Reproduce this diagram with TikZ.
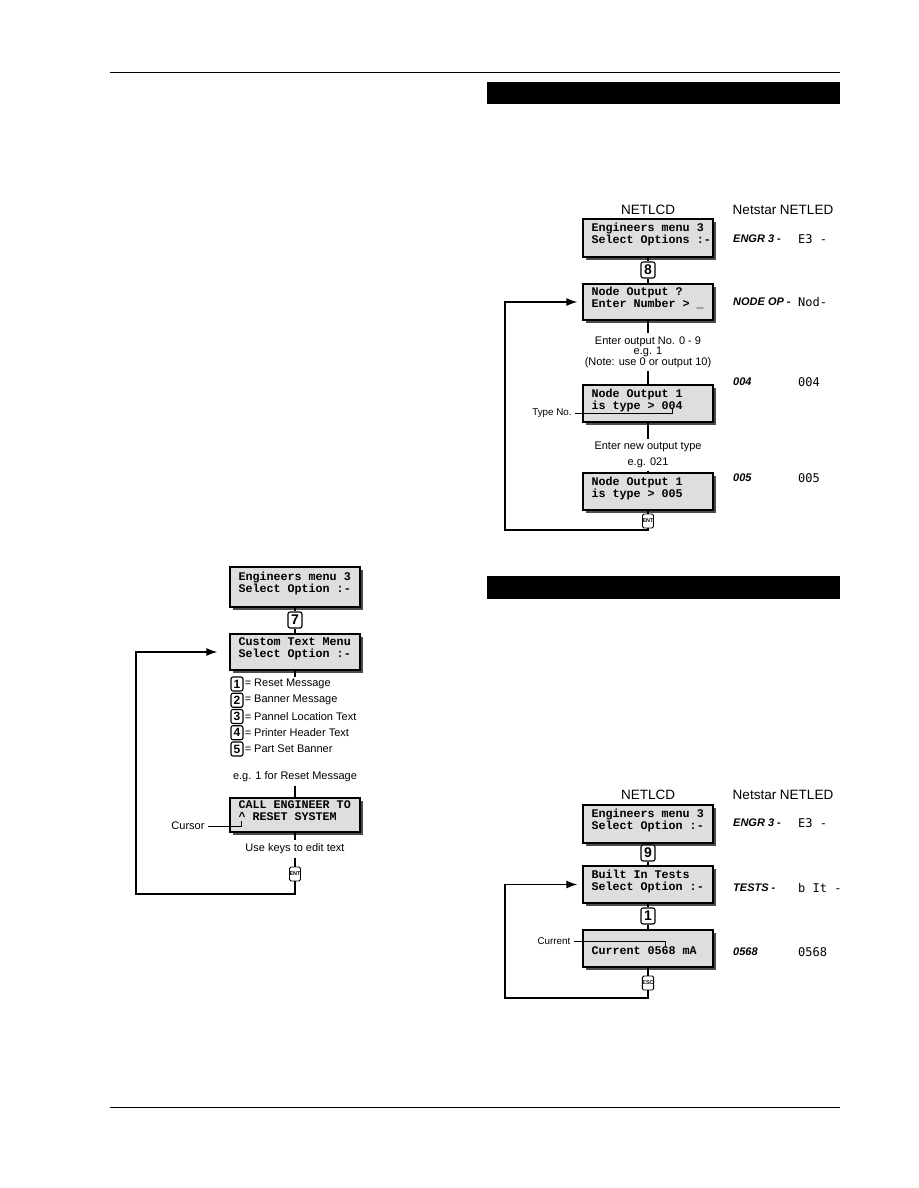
\documentclass[tikz,border=0pt]{standalone}
\usepackage{fontspec}
\setmainfont{Liberation Sans}
\newfontfamily\lcdfont{Liberation Mono}
\newfontfamily\ledfont{DejaVu Sans Mono}
\usetikzlibrary{arrows.meta,shadows}

\begin{document}
\begin{tikzpicture}[x=1pt,y=-1pt,>={Latex[length=11pt,width=8pt]},font=\fontsize{11}{12}\selectfont,
 lcd/.style={draw,line width=1.2pt,fill=black!13,minimum width=130pt,minimum height=#1,inner sep=0pt,text width=113pt,text height=8pt,text depth=21pt,align=left,font=\lcdfont\bfseries\fontsize{11.7}{12}\selectfont,execute at begin node={\spaceskip=7pt\xspaceskip=7pt\hyphenpenalty=10000},drop shadow={shadow xshift=3pt,shadow yshift=-3pt,fill=black!70,opacity=1}},
 lcd/.default=37pt,
 keybox/.style={draw,line width=1.1pt,rounded corners=2pt,fill=white,inner sep=0pt,minimum width=14pt,minimum height=16pt,font=\bfseries\fontsize{14}{14}\selectfont},
 numkey/.style={keybox,minimum width=12pt,minimum height=14pt,font=\bfseries\fontsize{12}{12}\selectfont},
 smallkey/.style={draw,line width=0.9pt,rounded corners=1.5pt,fill=white,inner sep=0pt,minimum width=11pt,minimum height=14pt,font=\bfseries\fontsize{5.5}{6}\selectfont},
 wire/.style={line width=1.6pt},
 hdr/.style={font=\fontsize{13.5}{14}\selectfont},
 tag/.style={anchor=west,inner sep=0pt,font=\bfseries\itshape\fontsize{11}{12}\selectfont},
 led/.style={anchor=west,inner sep=0pt,font=\ledfont\fontsize{12}{12}\selectfont},
 pointer/.style={font=\fontsize{9.8}{10}\selectfont}]
\useasboundingbox (0,0) rectangle (918,1188);
\draw[line width=0.9pt] (110,72) -- (840,72); \draw[line width=0.9pt] (110,1107) -- (840,1107);
\fill (487,82) rectangle (840,104); \fill (487,576) rectangle (840,599);

\node[lcd=40pt] (em1) at (295,587) {Engineers menu 3\\Select Option :-};
\node[keybox] (k7) at (295,620) {7};
\node[lcd=36pt] (ctm) at (295,652) {Custom Text Menu\\Select Option :-};
\draw[wire] (em1) -- (k7) -- (ctm);
\coordinate (lt) at (295,677); \draw[wire] (ctm) -- (lt);
\foreach \n/\t in {1/Reset Message,2/Banner Message,3/Pannel Location Text,4/Printer Header Text,5/Part Set Banner}{
 \node[numkey] (n\n) at (237,667.75+16.25*\n) {\n};
 \node[anchor=west,inner sep=1pt] (t\n) at (n\n.east) {= \t};}
\node (eg1) at (295,777) {e.g. 1 for Reset Message};
\node[lcd=34pt] (cek) at (295,815) {CALL ENGINEER TO\\\textasciicircum{} RESET SYSTEM};
\draw[wire] (eg1) -- (cek);
\node (curs) at (188,826) {Cursor};
\coordinate (cpos) at (241,821);
\draw (curs.east) -- (cpos |- curs) -- (cpos);
\node (uk) at (295,849) {Use keys to edit text};
\node[smallkey] (ent1) at (295,874) {ENT};
\draw[wire] (cek) -- (uk) -- (ent1);
\coordinate (lp1) at (136,894);
\draw[wire,->] (ent1) |- (lp1) |- ([xshift=-12pt]ctm.west);

\node[hdr] (lcdh1) at (648,210) {NETLCD}; \node[hdr] (ledh1) at (783,210) {Netstar NETLED};
\node[lcd=38pt] (em2) at (648,238) {Engineers menu 3\\\mbox{Select Options :-}};
\node[keybox] (k8) at (648,270) {8};
\node[lcd=36pt] (nop) at (648,302) {Node Output ?\\Enter Number > \_};
\draw[wire] (em2) -- (k8) -- (nop);
\node[align=center,font=\fontsize{11}{10.5}\selectfont] (eo) at (648,352) {Enter output No. 0 - 9\\e.g. 1\\(Note: use 0 or output 10)};
\node[lcd=37pt] (nt1) at (648,403.5) {Node Output 1\\is type > 004};
\node (typ) at (552,413) [pointer] {Type No.};
\coordinate (tpos) at (672,408);
\draw (typ.east) -- (tpos |- typ) -- (tpos);
\node[align=center,font=\fontsize{11}{16}\selectfont] (nt) at (648,455) {Enter new output type\\e.g. 021};
\node[lcd=37pt] (nt2) at (648,491.5) {Node Output 1\\is type > 005};
\node[smallkey] (ent2) at (648,521) {ENT};
\draw[wire] (nop) -- (eo) -- (nt1) -- (nt) -- (nt2) -- (ent2);
\coordinate (lp2) at (505,530);
\draw[wire,->] (ent2) |- (lp2) |- ([xshift=-5pt]nop.west);
\node[tag] (g1) at (733,239) {ENGR 3 -}; \node[led] (d1) at (798,239) {E3 -};
\node[tag] (g2) at (733,302) {NODE OP -}; \node[led] (d2) at (798,302) {Nod-};
\node[tag] (g3) at (733,382) {004}; \node[led] (d3) at (798,382) {004};
\node[tag] (g4) at (733,478) {005}; \node[led] (d4) at (798,478) {005};

\node[hdr] (lcdh2) at (648,795) {NETLCD}; \node[hdr] (ledh2) at (783,795) {Netstar NETLED};
\node[lcd=38pt] (em3) at (648,824) {Engineers menu 3\\Select Option :-};
\node[keybox] (k9) at (648,853) {9};
\node[lcd=37pt] (bit) at (648,884.5) {Built In Tests\\Select Option :-};
\node[keybox] (k1) at (648,916) {1};
\node[lcd=37pt] (cur) at (648,948.5) {\mbox{}\\Current 0568 mA};
\node[smallkey] (esc) at (648,983) {ESC};
\draw[wire] (em3) -- (k9) -- (bit) -- (k1) -- (cur) -- (esc);
\node (cl) at (554,941) [pointer] {Current};
\coordinate (clpos) at (665,946);
\draw (cl.east) -- (clpos |- cl) -- (clpos);
\coordinate (lp3) at (505,998);
\draw[wire,->] (esc) |- (lp3) |- ([xshift=-5pt]bit.west);
\node[tag] (g5) at (733,823) {ENGR 3 -}; \node[led] (d5) at (798,823) {E3 -};
\node[tag] (g6) at (733,888) {TESTS -}; \node[led] (d6) at (798,888) {b It -};
\node[tag] (g7) at (733,952) {0568}; \node[led] (d7) at (798,952) {0568};
\end{tikzpicture}
\end{document}
